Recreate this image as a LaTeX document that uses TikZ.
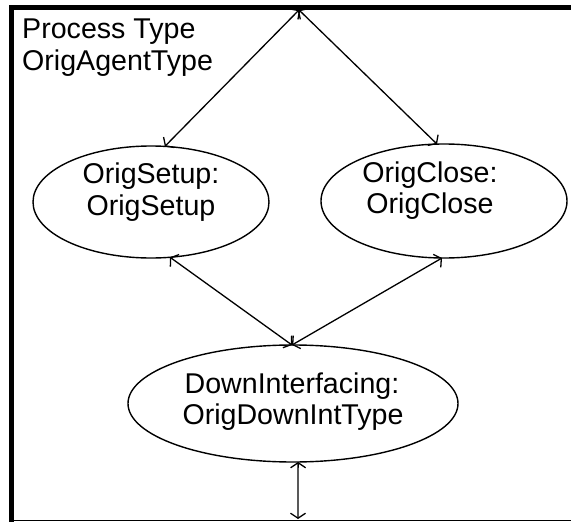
\documentclass[tikz,border=0pt]{standalone}
\usepackage{fontspec}
\setmainfont{Liberation Sans}
\usetikzlibrary{shapes.geometric,arrows.meta}
\begin{document}
\begin{tikzpicture}[x=1pt,y=-1pt,
  oval/.style={ellipse, draw, line width=1.4pt, inner sep=0pt, outer sep=0pt},
  lbl/.style={font=\fontsize{28.6}{32}\selectfont, inner sep=0pt, anchor=base},
  tip/.tip={Straight Barb[length=5pt,width=15pt,line width=1.3pt]},
  link/.style={line width=1.3pt, tip-tip}]
\useasboundingbox (0,0) rectangle (571,522);
\fill[white] (0,0) rectangle (571,522);
% frame
\draw[line width=4.5pt] (571,7.5) -- (11.5,7.5) -- (11.5,522);
\draw[line width=1.2pt] (11.5,520.5) -- (571,520.5);
% title
\node[lbl, anchor=base west] (P1) at (22,38) {Process Type};
\node[lbl, anchor=base west] (P2) at (22,70) {OrigAgentType};
% ellipses
\node[oval, minimum width=236pt, minimum height=112pt] (A) at (151,202) {};
\node[oval, minimum width=246pt, minimum height=114pt] (B) at (444,201) {};
\node[oval, minimum width=330pt, minimum height=117pt] (C) at (293,403.5) {};
% labels
\node[lbl] (A1) at (151,183) {OrigSetup:};
\node[lbl] (A2) at (151,215) {OrigSetup};
\node[lbl] (B1) at (430,182) {OrigClose:};
\node[lbl] (B2) at (430,213) {OrigClose};
\node[lbl] (C1) at (292,393) {DownInterfacing:};
\node[lbl] (C2) at (293,424) {OrigDownIntType};
% connectors
\coordinate (T) at (299,10);
\coordinate (Bot) at (298,519);
\draw[link] (T) -- (A.76);
\draw[link] (T) -- (B.97);
\draw[link] (A.-71) -- (C.91);
\draw[link] (B.-92) -- (C.91);
\draw[link] (C.-85) -- (Bot);
\end{tikzpicture}
\end{document}
